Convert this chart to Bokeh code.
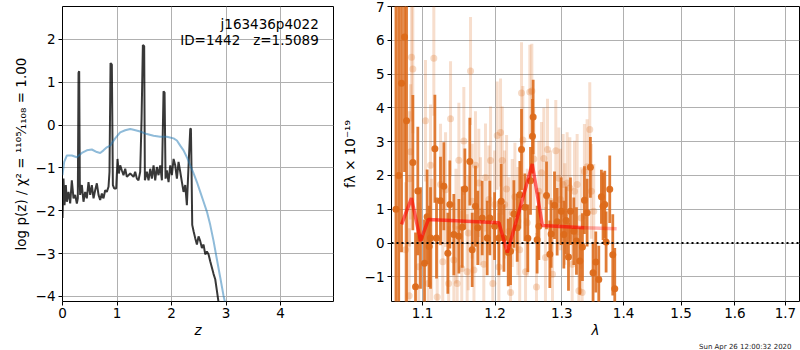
from bokeh.plotting import figure
from bokeh.layouts import row
from bokeh.models import Range1d, FixedTicker, PrintfTickFormatter, Label, Title
from bokeh.embed import file_html
from bokeh.resources import INLINE

# ---------------- left panel: log p(z) ----------------
pz_z = [0.000,0.018,0.037,0.061,0.080,0.110,0.141,0.171,0.202,0.232,0.263,0.281,0.294,0.306,0.318,0.324,
        0.355,0.385,0.416,0.446,0.477,0.508,0.538,0.569,0.599,0.630,0.661,0.691,0.722,0.752,0.783,0.813,
        0.844,0.862,0.881,0.905,0.924,0.948,0.985,1.009,1.034,1.058,1.089,1.119,1.150,1.180,1.242,1.303,
        1.333,1.364,1.394,1.425,1.450,1.474,1.498,1.511,1.547,1.578,1.609,1.639,1.670,1.700,1.731,1.761,
        1.792,1.823,1.853,1.872,1.890,1.914,1.945,1.976,2.006,2.037,2.067,2.098,2.128,2.159,2.190,2.220,
        2.251,2.281,2.312,2.343,2.355,2.367,2.379,2.404,2.434,2.465,2.495,2.526,2.557,2.587,2.618,2.648,
        2.679,2.709,2.771,2.801,2.832,2.862,2.890]
pz_log = [-2.17,-1.25,-1.87,-1.40,-1.79,-1.56,-1.83,-1.29,-1.71,-1.63,-1.83,-1.71,1.22,1.26,-1.40,-1.63,
          -1.40,-1.79,-1.56,-1.71,-1.33,-1.63,-1.40,-1.71,-1.52,-1.36,-1.63,-1.75,-1.60,-1.71,-1.52,-1.56,
          -1.44,-1.09,1.45,1.41,-1.40,-1.48,-1.48,-0.79,-1.13,-0.94,-1.06,-1.17,-1.02,-1.21,-1.13,-1.21,
          -1.09,-1.25,-1.29,-1.09,0.14,1.87,1.84,-1.29,-1.09,-1.29,-1.02,-1.25,-0.94,-1.29,-0.98,-1.17,
          -0.94,-1.29,0.79,0.76,-1.25,-1.06,-1.33,-0.94,-1.17,-0.79,-0.94,-1.25,-0.86,-1.09,-1.33,-1.56,
          -1.40,-1.87,-0.94,-0.09,-0.08,-1.09,-2.33,-2.48,-2.64,-2.79,-2.60,-2.71,-2.87,-2.79,-3.02,-2.95,
          -3.02,-3.18,-3.48,-3.60,-3.87,-4.14,-4.50]

prior_z = [0.000,0.031,0.080,0.171,0.263,0.355,0.446,0.538,0.630,0.691,0.752,0.813,0.875,0.966,1.058,
           1.150,1.242,1.303,1.425,1.547,1.670,1.792,1.914,2.037,2.098,2.159,2.220,2.281,2.343,2.404,
           2.465,2.526,2.587,2.648,2.709,2.771,2.832,2.893,2.954,3.003]
prior_log = [-1.17,-0.86,-0.71,-0.71,-0.75,-0.65,-0.59,-0.57,-0.63,-0.65,-0.59,-0.52,-0.48,-0.31,-0.17,
             -0.12,-0.09,-0.11,-0.15,-0.21,-0.25,-0.27,-0.27,-0.31,-0.36,-0.48,-0.59,-0.75,-0.94,-1.13,
             -1.33,-1.56,-1.79,-2.02,-2.33,-2.71,-3.14,-3.56,-3.99,-4.26]

left_xticks = [0, 1, 2, 3, 4]
left_yticks = [-4, -3, -2, -1, 0, 1, 2]
obj_name = "j163436p4022"
obj_info = "ID=1442\u00a0\u00a0\u00a0z=1.5089"

# ---------------- right panel: spectrum ----------------
dark_wave = [1.0655,1.0690,1.0726,1.0765,1.0791,1.0873,1.0908,1.0938,1.0973,1.1026,1.1061,1.1088,1.1106,
             1.1164,1.1186,1.1240,1.1285,1.1339,1.1366,1.1421,1.1490,1.1536,1.1573,1.1642,1.1675,1.1721,
             1.1754,1.1816,1.1887,1.1925,1.1993,1.2055,1.2089,1.2128,1.2191,1.2225,1.2274,1.2323,1.2362,
             1.2387,1.2437,1.2481,1.2521,1.2551,1.2561,1.2621,1.2647,1.2764,1.2815,1.2835,1.2887,1.2928,
             1.2990,1.3032,1.3068,1.3105,1.3136,1.3189,1.3231,1.3284,1.3326,1.3358,1.3401,1.3454,1.3497,
             1.3541,1.3590,1.3633,1.3660,1.3688,1.3710,1.3770,1.3820,1.3853]
dark_flux = [1.00,2.00,4.73,6.10,3.62,2.38,-1.29,1.54,0.15,-0.60,0.78,-0.10,0.15,
             2.79,0.15,1.25,1.68,-0.30,1.14,0.25,0.20,0.47,1.60,2.41,-0.20,1.09,
             0.45,0.74,0.15,0.74,0.50,0.15,1.24,0.15,-0.28,-0.24,0.86,0.45,1.43,
             2.77,1.06,0.14,1.84,3.16,3.73,0.10,0.50,1.41,-0.33,0.27,1.12,0.63,
             0.94,0.25,0.67,-0.41,0.94,0.35,0.06,-0.53,-0.12,1.27,0.90,2.24,-0.88,
             -0.56,-1.08,1.37,1.09,1.14,0.03,1.59,-0.35,-1.35]
dark_err = [8.0,8.0,5.0,4.0,5.5,2.0,1.6,1.9,1.5,1.3,1.4,1.2,1.5,
            1.6,1.2,1.3,1.3,1.2,1.3,1.2,1.1,1.2,1.2,1.3,1.1,1.2,
            1.1,1.1,1.1,1.1,1.0,1.1,1.1,1.0,1.0,1.0,1.0,1.0,1.0,
            1.2,1.0,1.0,1.0,1.1,1.1,1.0,1.0,1.0,1.0,1.0,1.0,1.0,
            1.0,1.0,1.0,1.0,1.0,1.0,1.0,1.0,1.0,1.0,1.0,0.9,0.9,
            0.9,1.0,0.8,1.0,1.0,0.9,1.0,1.2,1.2]

light_wave = [1.0778,1.0825,1.0830,1.0843,1.0856,1.0873,1.0950,1.1039,1.1075,1.1106,1.1120,1.1150,1.1195,
              1.1240,1.1270,1.1308,1.1350,1.1376,1.1421,1.1450,1.1467,1.1490,1.1530,1.1559,1.1605,1.1620,
              1.1652,1.1675,1.1700,1.1721,1.1768,1.1792,1.1839,1.1863,1.1911,1.1935,1.1968,1.1993,1.2031,
              1.2055,1.2079,1.2104,1.2138,1.2167,1.2201,1.2225,1.2250,1.2289,1.2333,1.2360,1.2387,1.2407,
              1.2447,1.2472,1.2511,1.2541,1.2571,1.2611,1.2647,1.2687,1.2723,1.2748,1.2779,1.2825,1.2856,
              1.2907,1.2954,1.2980,1.3021,1.3047,1.3084,1.3126,1.3163,1.3200,1.3242,1.3269,1.3306,1.3322,
              1.3358,1.3401,1.3444,1.3470,1.3508]
light_flux = [-0.20,-1.56,1.90,2.70,5.50,5.15,-0.70,3.62,-1.20,2.30,0.10,5.47,-1.60,
              1.73,-0.55,1.58,-1.20,3.68,-0.50,0.50,-1.20,2.45,-0.75,3.02,-0.85,0.30,
              5.09,1.24,-0.80,2.30,1.78,0.94,-0.63,1.94,1.29,2.44,-1.20,1.14,3.18,
              -0.71,3.27,2.44,1.14,1.60,0.35,-1.46,0.89,1.37,0.65,-0.20,4.44,3.05,
              -0.85,0.60,4.47,4.50,2.49,-1.30,1.53,2.08,2.50,-0.43,2.77,1.24,-0.92,
              2.73,1.92,1.29,1.73,0.86,1.78,1.63,-0.63,1.53,1.73,-1.41,0.74,-1.46,
              2.12,2.26,3.36,1.53,0.94]
light_err = [2.0,2.0,2.0,2.0,1.9,1.9,1.9,1.8,1.8,1.8,1.8,1.7,1.8,
             1.8,1.8,1.7,1.7,1.7,1.7,1.7,1.7,1.7,1.7,1.6,1.7,1.7,
             1.6,1.7,1.7,1.6,1.6,1.6,1.6,1.6,1.6,1.6,1.6,1.6,1.6,
             1.6,1.6,1.6,1.6,1.6,1.6,1.6,1.6,1.6,1.6,1.6,1.5,1.6,
             1.6,1.6,1.4,1.4,1.5,1.6,1.5,1.5,1.5,1.5,1.5,1.5,1.5,
             1.5,1.5,1.5,1.5,1.5,1.5,1.5,1.5,1.5,1.5,1.5,1.5,1.5,
             1.4,1.4,1.4,1.4,1.4]

model_wave = [1.0727,1.0855,1.0974,1.1077,1.2056,1.2178,1.2379,1.2548,1.2700,1.3351]
model_flux = [0.55,1.33,0.06,0.70,0.60,-0.28,1.14,2.34,0.52,0.45]
model2_wave = [1.3351,1.3884]
model2_flux = [0.45,0.42]

right_xticks = [1.1, 1.2, 1.3, 1.4, 1.5, 1.6, 1.7]
right_yticks = [-1, 0, 1, 2, 3, 4, 5, 6, 7]
zero_wave = [1.0598, 1.729]
zero_flux = [0.0, 0.0]
timestamp = "Sun Apr 26 12:00:32 2020"

FONT = "DejaVu Sans"
GRID = "#b0b0b0"
ORANGE = "#dc6a1a"
FS = "13.5px"


def minus(v):
    return f"{v:g}".replace("-", "\u2212")


def style(p):
    p.outline_line_color = "black"
    p.outline_line_width = 1
    p.outline_line_alpha = 1
    for ax in (p.xaxis, p.yaxis):
        ax.major_label_text_font = FONT
        ax.major_label_text_font_size = FS
        ax.major_label_text_color = "black"
        ax.axis_label_text_font = FONT
        ax.axis_label_text_font_size = FS
        ax.axis_label_text_font_style = "normal"
        ax.axis_label_text_color = "black"
        ax.major_tick_in = 0
        ax.major_tick_out = 4
        ax.minor_tick_line_color = None
        ax.axis_line_color = None
        ax.major_tick_line_color = "black"
        ax.axis_label_standoff = 4
        ax.major_label_standoff = 3
    p.xaxis.axis_label_standoff = 1
    p.xaxis.major_label_standoff = 2
    p.xgrid.grid_line_color = GRID
    p.ygrid.grid_line_color = GRID
    p.background_fill_color = "white"
    p.border_fill_color = "white"


def footer(text):
    return Title(text=text, align="right", text_font=FONT, text_font_size="7px",
                 text_font_style="normal", text_color="#222222", standoff=0, offset=8)


# ---------- left figure ----------
p1 = figure(width=335, height=350, output_backend="svg", toolbar_location=None,
            x_range=Range1d(0, 4.97), y_range=Range1d(-4.12, 2.77),
            min_border_left=62, min_border_right=2, min_border_top=6, min_border_bottom=0)
style(p1)
p1.xaxis.ticker = FixedTicker(ticks=left_xticks)
p1.yaxis.ticker = FixedTicker(ticks=left_yticks)
p1.xgrid.ticker = FixedTicker(ticks=left_xticks)
p1.ygrid.ticker = FixedTicker(ticks=left_yticks)
p1.yaxis.major_label_overrides = {t: minus(t) for t in left_yticks}
p1.xaxis.axis_label = "z"
p1.xaxis.axis_label_text_font_style = "italic"
p1.yaxis.axis_label = "log p(z) / \u03c7\u00b2 = \u00b9\u00b9\u2070\u2075\u2044\u2081\u2081\u2080\u2088 = 1.00"
p1.add_layout(footer("\u00a0"), "below")

p1.line(pz_z, pz_log, line_color="black", line_alpha=0.78, line_width=2)
p1.line(prior_z, prior_log, line_color="#1f77b4", line_alpha=0.5, line_width=2)

p1.add_layout(Label(x=4.70, y=2.36, text=obj_name, text_align="right", text_baseline="middle",
                    text_font=FONT, text_font_size=FS, text_color="black"))
p1.add_layout(Label(x=4.70, y=1.99, text=obj_info, text_align="right", text_baseline="middle",
                    text_font=FONT, text_font_size=FS, text_color="black"))

# ---------- right figure ----------
p2 = figure(width=465, height=350, output_backend="svg", toolbar_location=None,
            x_axis_type="log",
            x_range=Range1d(1.0598, 1.729), y_range=Range1d(-1.73, 7.0),
            min_border_left=56, min_border_right=1, min_border_top=6, min_border_bottom=0)
style(p2)
p2.xaxis.ticker = FixedTicker(ticks=right_xticks)
p2.xgrid.ticker = FixedTicker(ticks=right_xticks)
p2.yaxis.ticker = FixedTicker(ticks=right_yticks)
p2.ygrid.ticker = FixedTicker(ticks=right_yticks)
p2.xaxis.formatter = PrintfTickFormatter(format="%.1f")
p2.yaxis.major_label_overrides = {t: minus(t) for t in right_yticks}
p2.xaxis.axis_label = "\u03bb"
p2.xaxis.axis_label_text_font_style = "italic"
p2.yaxis.axis_label = "f\u03bb \u00d7 10\u207b\u00b9\u2079"
p2.add_layout(footer(timestamp), "below")

light_lo = [f - e for f, e in zip(light_flux, light_err)]
light_hi = [f + e for f, e in zip(light_flux, light_err)]
dark_lo = [f - e for f, e in zip(dark_flux, dark_err)]
dark_hi = [f + e for f, e in zip(dark_flux, dark_err)]

p2.segment(light_wave, light_lo, light_wave, light_hi, line_color=ORANGE, line_alpha=0.22, line_width=3)
p2.scatter(light_wave, light_flux, size=7, fill_color=ORANGE, fill_alpha=0.25, line_color=None)
p2.segment(dark_wave, dark_lo, dark_wave, dark_hi, line_color=ORANGE, line_alpha=0.88, line_width=2.8)
p2.scatter(dark_wave, dark_flux, size=7, fill_color=ORANGE, fill_alpha=0.95, line_color=None)

p2.line(model_wave, model_flux, line_color="red", line_alpha=0.6, line_width=3.5)
p2.line(model2_wave, model2_flux, line_color="red", line_alpha=0.3, line_width=3.5)
p2.line(zero_wave, zero_flux, line_color="black", line_width=2, line_dash="2 3")

layout = row(p1, p2)
open("out.html", "w").write(file_html(layout, INLINE))
